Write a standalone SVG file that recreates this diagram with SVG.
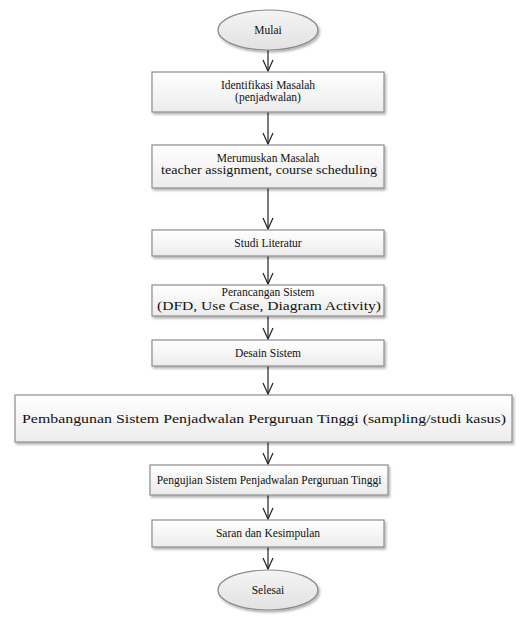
<svg xmlns="http://www.w3.org/2000/svg" width="522" height="617" viewBox="0 0 522 617">
<style>
.box{fill:url(#g);stroke:#8c8c8c;stroke-width:1.2}
.ell{fill:url(#ge);stroke:#8c8c8c;stroke-width:1.2}
.t{font-family:"Liberation Serif",serif;font-size:11.5px;fill:#111;text-anchor:middle}
.c{stroke:#222;stroke-width:1.2;fill:none;marker-end:url(#a)}
</style>
<defs>
<linearGradient id="g" x1="0" y1="0" x2="0" y2="1"><stop offset="0" stop-color="#ffffff"/><stop offset="1" stop-color="#ececec"/></linearGradient>
<linearGradient id="ge" x1="0" y1="0" x2="0" y2="1"><stop offset="0" stop-color="#f4f4f4"/><stop offset="1" stop-color="#e2e2e2"/></linearGradient>
<filter id="s" x="-10%" y="-20%" width="120%" height="150%"><feDropShadow dx="1.5" dy="2" stdDeviation="1" flood-color="#000" flood-opacity="0.3"/></filter>
<marker id="a" markerWidth="14" markerHeight="14" refX="12" refY="6" orient="auto" markerUnits="userSpaceOnUse" viewBox="0 0 14 14"><path d="M1 1 L12 6 L1 11" fill="none" stroke="#222" stroke-width="1.2"/></marker>
</defs>
<rect width="522" height="617" fill="#fff"/>
<g id="connectors">
<line class="c" x1="268" y1="50" x2="268" y2="71"/>
<line class="c" x1="268" y1="112" x2="268" y2="144"/>
<line class="c" x1="268" y1="188" x2="268" y2="229"/>
<line class="c" x1="268" y1="256" x2="268" y2="284"/>
<line class="c" x1="268" y1="316" x2="268" y2="339"/>
<line class="c" x1="268" y1="366" x2="268" y2="394"/>
<line class="c" x1="268" y1="442" x2="268" y2="464"/>
<line class="c" x1="268" y1="495" x2="268" y2="519"/>
<line class="c" x1="268" y1="547" x2="268" y2="569"/>
</g>
<g id="mulai"><ellipse class="ell" filter="url(#s)" cx="268" cy="30" rx="50" ry="20"/><text class="t" x="268" y="34">Mulai</text></g>
<g id="identifikasi"><rect class="box" filter="url(#s)" x="152" y="72" width="232" height="40"/><text class="t" x="268" y="89">Identifikasi Masalah</text><text class="t" x="268" y="101">(penjadwalan)</text></g>
<g id="merumuskan"><rect class="box" filter="url(#s)" x="152" y="145" width="232" height="43"/><text class="t" x="268" y="162">Merumuskan Masalah</text><text class="t" x="269" y="174" style="font-size:12.5px" textLength="216" lengthAdjust="spacingAndGlyphs">teacher assignment, course scheduling</text></g>
<g id="studi"><rect class="box" filter="url(#s)" x="152" y="230" width="232" height="26"/><text class="t" x="268" y="247">Studi Literatur</text></g>
<g id="perancangan"><rect class="box" filter="url(#s)" x="152" y="285" width="232" height="31"/><text class="t" x="268" y="296">Perancangan Sistem</text><text class="t" x="269" y="310" style="font-size:12px" textLength="224" lengthAdjust="spacingAndGlyphs">(DFD, Use Case, Diagram Activity)</text></g>
<g id="desain"><rect class="box" filter="url(#s)" x="152" y="340" width="232" height="26"/><text class="t" x="268" y="357">Desain Sistem</text></g>
<g id="pembangunan"><rect class="box" filter="url(#s)" x="15" y="395" width="497" height="47"/><text class="t" x="264" y="423" style="font-size:13.5px" textLength="484" lengthAdjust="spacingAndGlyphs">Pembangunan Sistem Penjadwalan Perguruan Tinggi (sampling/studi kasus)</text></g>
<g id="pengujian"><rect class="box" filter="url(#s)" x="150" y="465" width="238" height="30"/><text class="t" x="269" y="484">Pengujian Sistem Penjadwalan Perguruan Tinggi</text></g>
<g id="saran"><rect class="box" filter="url(#s)" x="152" y="520" width="232" height="27"/><text class="t" x="268" y="537">Saran dan Kesimpulan</text></g>
<g id="selesai"><ellipse class="ell" filter="url(#s)" cx="268" cy="590" rx="50" ry="20"/><text class="t" x="268" y="594">Selesai</text></g>
</svg>
